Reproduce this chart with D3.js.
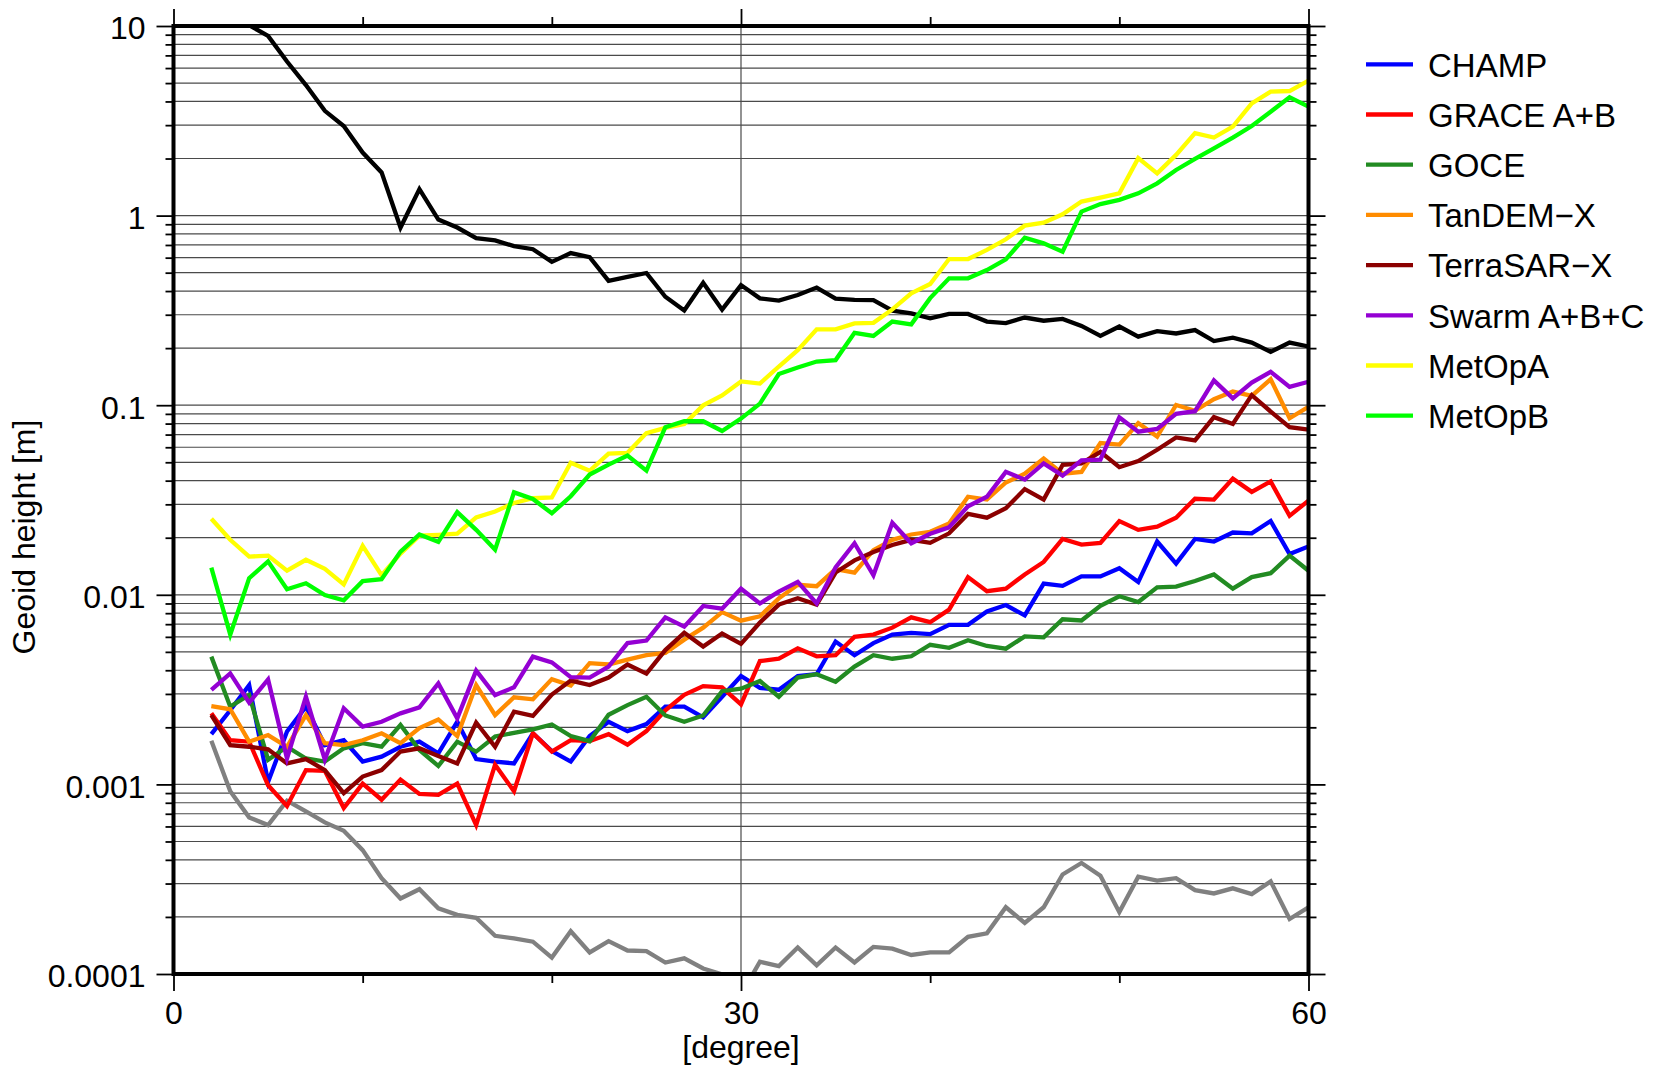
<!DOCTYPE html>
<html>
<head>
<meta charset="utf-8">
<script src="https://cdn.jsdelivr.net/npm/d3@7"></script>
<style>
  html, body { margin: 0; padding: 0; background: #fff; }
  svg { display: block; }
  text { font-family: "Liberation Sans", Arial, Helvetica, sans-serif; fill: #000; }
</style>
</head>
<body>
<svg id="chart" width="1653" height="1065"></svg>
<script>
// ---------------- DATA ----------------
const degrees = d3.range(2, 61); // spherical harmonic degree 2..60

const seriesNames = ["CHAMP", "GRACE A+B", "GOCE", "TanDEM\u2212X", "TerraSAR\u2212X", "Swarm A+B+C", "MetOpA", "MetOpB"];
const seriesColors = ["#0000ff", "#ff0000", "#228b22", "#ff8c00", "#8b0000", "#9400d3", "#ffff00", "#00ff00"];

const champ = [0.00184,0.00246,0.00334,0.00103,0.0019,0.00257,0.00161,0.00171,0.00132,0.0014,0.00158,0.00168,0.00146,0.00214,0.00136,0.00132,0.00129,0.00186,0.0015,0.00132,0.0018,0.00214,0.00191,0.00208,0.00257,0.00257,0.00226,0.0029,0.00373,0.00323,0.00316,0.00373,0.00381,0.00567,0.0048,0.00556,0.00617,0.0063,0.0062,0.00694,0.00694,0.00816,0.00883,0.00778,0.01145,0.01114,0.0125,0.0125,0.0138,0.01167,0.0191,0.0146,0.0197,0.0191,0.0213,0.0211,0.0245,0.0164,0.018];
const grace = [0.00237,0.00171,0.00168,0.00099,0.00077,0.00119,0.00118,0.00075,0.00101,0.00083,0.00106,0.00089,0.00088,0.00101,0.00061,0.00127,0.00092,0.00186,0.00149,0.00171,0.00169,0.00184,0.00162,0.00191,0.00246,0.00297,0.0033,0.00325,0.00264,0.00447,0.0046,0.00522,0.00474,0.0048,0.006,0.00617,0.00671,0.0076,0.00717,0.00835,0.0124,0.01044,0.01078,0.0128,0.0149,0.0197,0.0184,0.0188,0.0245,0.022,0.0229,0.0255,0.0321,0.0318,0.041,0.0349,0.0396,0.0261,0.0314];
const goce = [0.00472,0.00257,0.00296,0.00135,0.00158,0.00137,0.00132,0.00155,0.00165,0.00158,0.00206,0.00152,0.00125,0.00168,0.00149,0.00179,0.00187,0.00195,0.00207,0.0018,0.00169,0.00233,0.00262,0.0029,0.00231,0.00214,0.00231,0.0031,0.0032,0.00351,0.0029,0.00366,0.00381,0.00348,0.00418,0.0048,0.0046,0.00474,0.00545,0.00525,0.00576,0.00537,0.0052,0.00603,0.00597,0.00743,0.00732,0.00875,0.00982,0.00916,0.01094,0.01104,0.01183,0.0128,0.01078,0.0124,0.013,0.0161,0.0134];
const tandemx = [0.00259,0.00249,0.00168,0.00182,0.00158,0.00232,0.00165,0.00161,0.00171,0.00186,0.00165,0.00198,0.0022,0.0018,0.00334,0.00232,0.00288,0.00281,0.00359,0.00332,0.00436,0.00429,0.00455,0.0048,0.00494,0.0058,0.00671,0.0081,0.0073,0.0077,0.00958,0.0113,0.0111,0.01366,0.0131,0.0172,0.0195,0.0208,0.0215,0.0238,0.0329,0.0318,0.0391,0.0435,0.0524,0.0435,0.0445,0.0631,0.062,0.0805,0.0683,0.1003,0.0935,0.1075,0.118,0.112,0.137,0.0853,0.098];
const terrasarx = [0.00232,0.00161,0.00158,0.00153,0.00129,0.00136,0.00119,0.0009,0.0011,0.00119,0.00149,0.00155,0.00141,0.00129,0.00212,0.00158,0.00242,0.0023,0.00298,0.00353,0.00334,0.00366,0.00429,0.00384,0.00511,0.0063,0.00533,0.00625,0.00551,0.00714,0.00888,0.00958,0.00888,0.0131,0.0152,0.0168,0.0183,0.0195,0.0188,0.0211,0.0267,0.0255,0.0286,0.0361,0.0318,0.0484,0.0493,0.0567,0.0471,0.0507,0.0582,0.0676,0.0652,0.0865,0.0796,0.113,0.0926,0.0765,0.0744];
const swarm = [0.00315,0.00385,0.0027,0.00358,0.00137,0.0029,0.00135,0.00252,0.00202,0.00214,0.00237,0.00255,0.00341,0.00223,0.00398,0.00296,0.00325,0.00472,0.0044,0.00368,0.00366,0.00418,0.00556,0.00574,0.0076,0.00679,0.00873,0.00845,0.01077,0.009,0.0104,0.0117,0.009,0.01395,0.0187,0.01268,0.024,0.0187,0.021,0.0227,0.0293,0.0329,0.0445,0.0405,0.0493,0.0425,0.0512,0.0516,0.0862,0.0725,0.075,0.09,0.093,0.135,0.1087,0.1316,0.15,0.125,0.133];
const metopA = [0.0252,0.0195,0.0159,0.0161,0.0134,0.0153,0.0137,0.01135,0.0181,0.0127,0.0165,0.0205,0.0207,0.021,0.0256,0.0275,0.0305,0.0323,0.0326,0.0497,0.0451,0.0555,0.0561,0.0713,0.0759,0.0796,0.0998,0.1125,0.1335,0.130,0.160,0.195,0.251,0.251,0.270,0.272,0.320,0.389,0.436,0.590,0.590,0.659,0.750,0.885,0.918,1.016,1.186,1.245,1.31,2.01,1.67,2.09,2.72,2.58,2.95,3.91,4.51,4.54,5.15];
const metopB = [0.0139,0.00616,0.01224,0.015,0.0107,0.0115,0.00996,0.00936,0.0118,0.0121,0.0169,0.0208,0.019,0.0273,0.022,0.0173,0.0347,0.032,0.0269,0.0331,0.0431,0.0486,0.0542,0.0452,0.0766,0.0823,0.0823,0.0731,0.085,0.102,0.146,0.158,0.170,0.173,0.241,0.232,0.276,0.267,0.367,0.467,0.467,0.516,0.588,0.765,0.714,0.645,1.05,1.15,1.21,1.31,1.48,1.74,1.99,2.26,2.58,2.97,3.53,4.21,3.76];
// reference curves without legend entry
const signalBlack = [16,12.5,10.1,8.87,6.5,4.88,3.57,2.97,2.15,1.69,0.865,1.38,0.953,0.865,0.76,0.74,0.69,0.665,0.57,0.634,0.604,0.453,0.475,0.498,0.373,0.316,0.442,0.319,0.43,0.366,0.356,0.381,0.417,0.365,0.359,0.358,0.315,0.305,0.287,0.303,0.303,0.276,0.271,0.29,0.279,0.285,0.262,0.232,0.26,0.23,0.246,0.239,0.249,0.218,0.227,0.214,0.191,0.214,0.204];
const refGray = [0.0017,0.00092,0.00067,0.00061,0.00082,0.00072,0.00063,0.00057,0.00045,0.00032,0.00025,0.00028,0.000222,0.000205,0.000198,0.000159,0.000154,0.000148,0.000122,0.000168,0.00013,0.000149,0.000133,0.000132,0.000115,0.000121,0.000107,0.0000995,0.000078,0.000116,0.00011,0.000138,0.000111,0.000138,0.000115,0.000139,0.000136,0.000126,0.00013,0.00013,0.000157,0.000164,0.000225,0.000186,0.000225,0.000335,0.000385,0.00033,0.000212,0.000326,0.000311,0.00032,0.000277,0.000266,0.000283,0.000264,0.000308,0.000195,0.000225];

const seriesValues = [champ, grace, goce, tandemx, terrasarx, swarm, metopA, metopB];

const xMajorTicks = [0, 30, 60];
const xMinorTicks = [10, 20, 40, 50];
const yMajorTicks = [1e-4, 1e-3, 1e-2, 1e-1, 1, 10];
const yTickLabels = ["0.0001", "0.001", "0.01", "0.1", "1", "10"];
const xTitle = "[degree]";
const yTitle = "Geoid height [m]";

// ---------------- LAYOUT ----------------
const L = 173.5, R = 1308.5, T = 26, B = 974;
const svg = d3.select("#chart");
const x = d3.scaleLinear().domain([0, 60]).range([L, R]);
const y = d3.scaleLog().domain([1e-4, 10]).range([B, T]);

const yMinorTicks = [];
for (let e = -4; e < 1; e++) for (let k = 2; k <= 9; k++) yMinorTicks.push(k * Math.pow(10, e));

// grid
const grid = svg.append("g");
grid.selectAll("line.hg").data(yMajorTicks.concat(yMinorTicks).filter(v => v > 1e-4 && v < 10))
  .enter().append("line")
  .attr("x1", L).attr("x2", R)
  .attr("y1", d => y(d)).attr("y2", d => y(d))
  .attr("stroke", "#4a4a4a").attr("stroke-width", 1.2);
grid.append("line").attr("x1", x(30)).attr("x2", x(30)).attr("y1", T).attr("y2", B)
  .attr("stroke", "#4a4a4a").attr("stroke-width", 1.2);

// data lines
svg.append("defs").append("clipPath").attr("id", "clip")
  .append("rect").attr("x", L).attr("y", T).attr("width", R - L).attr("height", B - T);
const gLines = svg.append("g").attr("clip-path", "url(#clip)");
const line = d3.line().x((d, i) => x(degrees[i])).y(d => y(d));
const LW = 4.3;

gLines.append("path").datum(signalBlack).attr("d", line)
  .attr("fill", "none").attr("stroke", "#000").attr("stroke-width", LW).attr("stroke-linejoin", "miter");
gLines.append("path").datum(refGray).attr("d", line)
  .attr("fill", "none").attr("stroke", "#808080").attr("stroke-width", LW).attr("stroke-linejoin", "miter");
seriesValues.forEach((vals, i) => {
  gLines.append("path").datum(vals).attr("d", line)
    .attr("fill", "none").attr("stroke", seriesColors[i]).attr("stroke-width", LW)
    .attr("stroke-linejoin", "miter");
});

// axes
function styleAxis(g) {
  g.select(".domain").remove();
  g.selectAll(".tick line").attr("stroke", "#000").attr("stroke-width", 1.8);
  g.selectAll(".tick text").attr("font-size", 32).attr("fill", "#000")
    .style("font-family", '"Liberation Sans", Arial, Helvetica, sans-serif');
}
const fmt = d => yTickLabels[yMajorTicks.indexOf(d)];
svg.append("g").attr("transform", `translate(${L},0)`)
  .call(d3.axisLeft(y).tickValues(yMajorTicks).tickSize(17).tickPadding(11).tickFormat(fmt))
  .call(styleAxis)
  .call(g => g.selectAll(".tick text").attr("dy", "0.4em"));
svg.append("g").attr("transform", `translate(${L},0)`)
  .call(d3.axisLeft(y).tickValues(yMinorTicks).tickSize(8).tickFormat(""))
  .call(styleAxis);
svg.append("g").attr("transform", `translate(${R},0)`)
  .call(d3.axisRight(y).tickValues(yMajorTicks).tickSize(17).tickFormat(""))
  .call(styleAxis);
svg.append("g").attr("transform", `translate(${R},0)`)
  .call(d3.axisRight(y).tickValues(yMinorTicks).tickSize(8).tickFormat(""))
  .call(styleAxis);
svg.append("g").attr("transform", `translate(0,${B})`)
  .call(d3.axisBottom(x).tickValues(xMajorTicks).tickSize(17).tickPadding(10).tickFormat(d3.format("d")))
  .call(styleAxis);
svg.append("g").attr("transform", `translate(0,${B})`)
  .call(d3.axisBottom(x).tickValues(xMinorTicks).tickSize(9).tickFormat(""))
  .call(styleAxis);
svg.append("g").attr("transform", `translate(0,${T})`)
  .call(d3.axisTop(x).tickValues(xMajorTicks).tickSize(17).tickFormat(""))
  .call(styleAxis);
svg.append("g").attr("transform", `translate(0,${T})`)
  .call(d3.axisTop(x).tickValues(xMinorTicks).tickSize(9).tickFormat(""))
  .call(styleAxis);

// frame
svg.append("rect").attr("x", L).attr("y", T).attr("width", R - L).attr("height", B - T)
  .attr("fill", "none").attr("stroke", "#000").attr("stroke-width", 4);

// titles
svg.append("text").attr("x", x(30)).attr("y", 1058).attr("text-anchor", "middle")
  .attr("font-size", 32).text(xTitle);
svg.append("text").attr("transform", `translate(35,${(T + B) / 2 + 37}) rotate(-90)`)
  .attr("text-anchor", "middle").attr("font-size", 32).text(yTitle);

// legend
const leg = svg.append("g");
seriesNames.forEach((name, i) => {
  const ly = 64.3 + i * 50.2;
  leg.append("line").attr("x1", 1366).attr("x2", 1413).attr("y1", ly).attr("y2", ly)
    .attr("stroke", seriesColors[i]).attr("stroke-width", 4.3);
  leg.append("text").attr("x", 1428).attr("y", ly).attr("dy", "0.37em")
    .attr("font-size", 33).text(name);
});
</script>
</body>
</html>
